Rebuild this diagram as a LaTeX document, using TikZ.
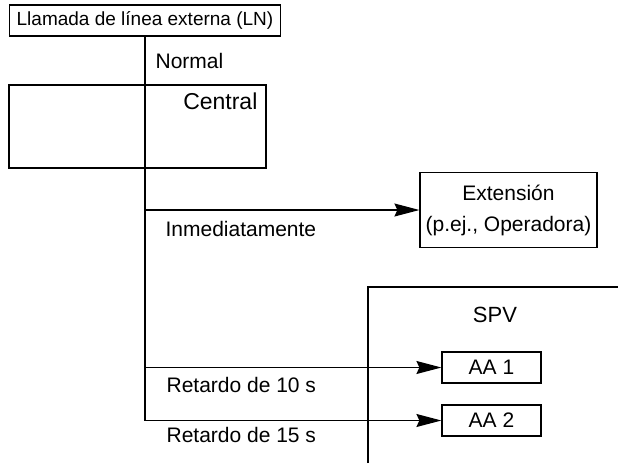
\documentclass[tikz,border=0pt]{standalone}
\usepackage{fontspec}
\setmainfont{Liberation Sans}
\usetikzlibrary{positioning, arrows.meta}

\begin{document}
\begin{tikzpicture}[x=0.5pt, y=-0.5pt,
                >={Stealth[length=12.5pt,width=6.5pt,inset=1.5pt]},
                line width=0.6pt, font=\fontsize{10.5}{13}\selectfont,
                box/.style={draw, inner sep=0pt},
                lbl/.style={anchor=base west, inner sep=0pt}]
            \useasboundingbox (0,0) rectangle (618,463);

            % boxes
            \node[box, minimum width=135.5pt, minimum height=15.5pt,
                  font=\fontsize{9.5}{11}\selectfont] (ln) at (145,20.5) {Llamada de línea externa (LN)};
            \node[box, line width=1pt, minimum width=128.5pt, minimum height=41.5pt] (pbx) at (137.5,126.5) {};
            \node[anchor=base east, inner sep=0pt, font=\fontsize{11.5}{13}\selectfont] (pbxlbl) at (258,109) {Central};
            \node[box, minimum width=88.5pt, minimum height=37.5pt, align=center,
                  font=\fontsize{10.5}{15.5}\selectfont] (ext) at (508.5,210) {Extensión\\(p.ej., Operadora)};
            \node[box, minimum width=49.5pt, minimum height=15.5pt] (aa1) at (491.5,367.5) {AA 1};
            \node[box, minimum width=49.5pt, minimum height=15.5pt] (aa2) at (491.5,420.5) {AA 2};

            % SPV
            \draw (368,463) -- (368,287) -- (618,287);
            \node[anchor=base, inner sep=0pt, font=\fontsize{11}{13}\selectfont] (spv) at (495,322) {SPV};

            % trunk and branches
            \coordinate (end) at (ln.south |- aa2.west);
            \draw (ln.south) -- (end);
            \draw[->] (ln.south |- ext.west) -- (ext.west);
            \draw[->] (ln.south |- aa1.west) -- (aa1.west);
            \draw[->] (end) -- (aa2.west);

            % labels
            \node[lbl] (normal) at (155,68) {Normal};
            \node[lbl] (inm) at (165,236) {Inmediatamente};
            \node[lbl] (r10) at (166,392) {Retardo de 10 s};
            \node[lbl] (r15) at (166,442) {Retardo de 15 s};

\end{tikzpicture}
\end{document}
